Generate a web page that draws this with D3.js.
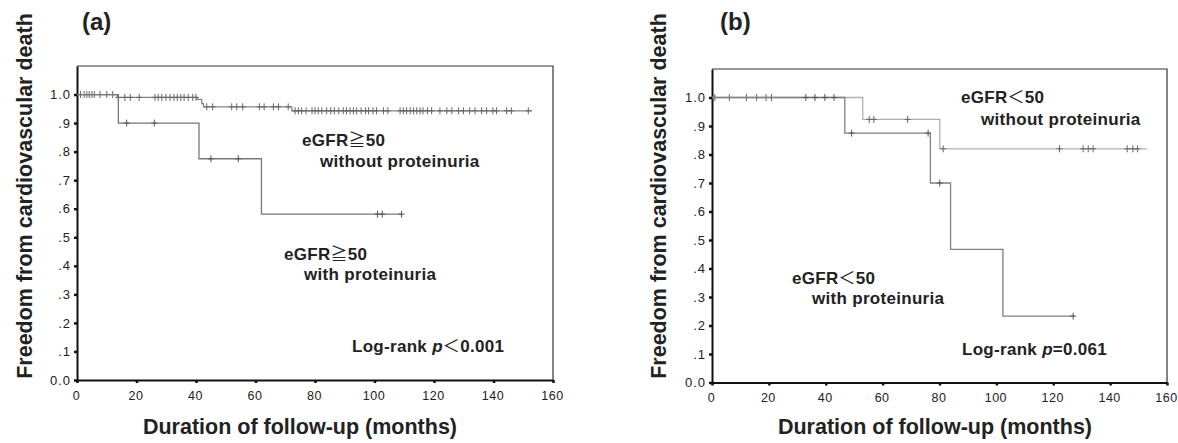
<!DOCTYPE html>
<html lang="en">
<head>
<meta charset="UTF-8">
<title>Kaplan-Meier curves</title>
<script src="https://d3js.org/d3.v7.min.js"></script>
<style>
  body { margin: 0; background: #fff; }
  svg { display: block; font-family: "Liberation Sans", Arial, sans-serif; }
  .tick text { font-size: 13px; fill: #222; letter-spacing: 1px; }
  .xax .tick text { font-size: 12.5px; letter-spacing: 0.5px; }
  .tick line { stroke: #111; stroke-width: 2.5; }
  .domain { stroke: #111; stroke-width: 2; }
  .ann { font-weight: bold; font-size: 17px; fill: #222; letter-spacing: 0.3px; }
  .sym { font-family: "Noto Sans CJK JP", "Liberation Sans", sans-serif; font-weight: normal; }
  .ttl { font-weight: bold; font-size: 21.5px; fill: #222; }
</style>
</head>
<body>
<svg width="1178" height="443"></svg>
<script>
// axis ticks
const xTicks = [0, 20, 40, 60, 80, 100, 120, 140, 160];
const yTicks = [0, .1, .2, .3, .4, .5, .6, .7, .8, .9, 1.0];
const yTickLabels = ["0.0", ".1", ".2", ".3", ".4", ".5", ".6", ".7", ".8", ".9", "1.0"];

// (a) eGFR >= 50
const aNoProtTimes = [0, 13.5, 40.3, 41.9, 42.5, 72.2];
const aNoProtSurv = [1.0, 0.99, 0.983, 0.968, 0.957, 0.943];
const aNoProtEnd = 153;
const aNoProtCens = [1.2, 2.4, 3.3, 4.1, 5.0, 5.8, 7.7, 10, 12, 13.9, 16.1, 17.9, 20.9,
  26.2, 27.3, 28.5, 29.9, 31.3, 32.6, 33.7, 34.9, 36, 37.4, 38.9, 40, 43.6, 45.6,
  52, 53.7, 55.7, 61.3, 62.9, 66, 67.7, 71, 73.3, 74.4, 75.5, 77, 79, 80, 81.1, 82.3,
  83.9, 85.3, 86.5, 88, 89.5, 90.6, 91.8, 92.9, 94, 95.5, 97, 98, 99.5, 100.7, 103,
  104.5, 108.6, 109.7, 110.8, 112, 113.1, 114.2, 115.3, 116.3, 117.8, 119.2, 122,
  124.3, 126, 128.2, 129.9, 132, 133.8, 136, 137.7, 139.8, 141, 144.4, 146, 151.7];

const aProtTimes = [0, 13.9, 41, 62];
const aProtSurv = [1.0, 0.9, 0.775, 0.581];
const aProtEnd = 109.2;
const aProtCens = [16.7, 26, 45, 54.2, 101, 102.6, 109.1];

// (b) eGFR < 50
const bNoProtTimes = [0, 53, 80.1];
const bNoProtSurv = [1.0, 0.923, 0.82];
const bNoProtEnd = 153;
const bNoProtCens = [1, 6.1, 12.1, 15.7, 19, 20.9, 55.3, 56.9, 68.8, 81.3, 122.2,
  130.5, 132.3, 134, 146, 148, 149.6];

const bProtTimes = [0, 46.7, 76.8, 83.9, 102.3];
const bProtSurv = [1.0, 0.875, 0.7, 0.467, 0.233];
const bProtEnd = 127.5;
const bProtCens = [33, 36.2, 39.7, 42.9, 49.1, 76, 80.1, 127];

const svg = d3.select("svg");

function survAt(times, surv, t) {
  let s = surv[0];
  for (let i = 0; i < times.length; i++) if (times[i] <= t) s = surv[i];
  return s;
}

function panel(cfg) {
  const x = d3.scaleLinear().domain([0, 160]).range([cfg.left, cfg.right]);
  const y = d3.scaleLinear().domain([0, 1.1]).range([cfg.bottom, cfg.top]);
  const g = svg.append("g");

  // thin top/right frame
  g.append("path")
    .attr("d", `M${cfg.left},${cfg.top}H${cfg.right}V${cfg.bottom}`)
    .attr("fill", "none").attr("stroke", "#333").attr("stroke-width", 1.2);

  g.append("g").attr("class", "xax").attr("transform", `translate(0,${cfg.bottom})`)
    .call(d3.axisBottom(x).tickValues(xTicks).tickSize(3).tickSizeOuter(0).tickPadding(8))
    .selectAll(".tick text").attr("dx", -1);
  g.append("g").attr("transform", `translate(${cfg.left},0)`)
    .call(d3.axisLeft(y).tickValues(yTicks).tickSize(3).tickSizeOuter(0).tickPadding(3)
      .tickFormat((d, i) => yTickLabels[i]));

  cfg.curves.forEach(c => {
    const pts = [];
    c.times.forEach((t, i) => {
      if (i > 0) pts.push([t, c.surv[i - 1]]);
      pts.push([t, c.surv[i]]);
    });
    pts.push([c.end, c.surv[c.surv.length - 1]]);
    g.append("path")
      .attr("d", d3.line().x(d => x(d[0])).y(d => y(d[1]))(pts))
      .attr("fill", "none").attr("stroke", c.color).attr("stroke-width", 1.3);
    g.selectAll(null).data(c.cens).enter().append("path")
      .attr("d", t => {
        const px = x(t), py = y(survAt(c.times, c.surv, t));
        return `M${px - 3},${py}H${px + 3}M${px},${py - 3.5}V${py + 3.5}`;
      })
      .attr("stroke", c.markColor).attr("stroke-width", 1);
  });

  svg.append("text").attr("x", cfg.tagX).attr("y", 30)
    .attr("font-weight", "bold").attr("font-size", 24).attr("fill", "#222").text(cfg.tag);
  svg.append("text").attr("class", "ttl").attr("text-anchor", "middle")
    .attr("transform", `translate(${cfg.yTitleX},196) rotate(-90)`)
    .text("Freedom from cardiovascular death");
  svg.append("text").attr("class", "ttl").attr("text-anchor", "middle")
    .attr("x", cfg.xTitleX).attr("y", 434).text("Duration of follow-up (months)");

  cfg.notes.forEach(n => {
    const t = svg.append("text").attr("class", "ann").attr("x", n.x).attr("y", n.y);
    if (n.p) {
      t.append("tspan").text("Log-rank ");
      t.append("tspan").attr("font-style", "italic").text("p");
      t.append("tspan").attr("class", "sym").text(n.sym);
      t.append("tspan").text(n.text);
    } else if (n.sym) {
      t.append("tspan").text("eGFR");
      t.append("tspan").attr("class", "sym").text(n.sym);
      t.append("tspan").text(n.text);
    } else {
      t.text(n.text);
    }
  });
}

panel({
  left: 77, right: 553, top: 66, bottom: 380, tag: "(a)", tagX: 82, yTitleX: 32, xTitleX: 300,
  curves: [
    { times: aNoProtTimes, surv: aNoProtSurv, end: aNoProtEnd, cens: aNoProtCens, color: "#858585", markColor: "#666" },
    { times: aProtTimes, surv: aProtSurv, end: aProtEnd, cens: aProtCens, color: "#777", markColor: "#555" }
  ],
  notes: [
    { x: 302, y: 146, sym: "≧", text: "50" },
    { x: 320, y: 167, text: "without proteinuria" },
    { x: 284, y: 260, sym: "≧", text: "50" },
    { x: 304, y: 280, text: "with proteinuria" },
    { x: 352, y: 352, sym: "＜", text: "0.001", p: true }
  ]
});

panel({
  left: 712, right: 1167, top: 69, bottom: 382.5, tag: "(b)", tagX: 720, yTitleX: 666, xTitleX: 935,
  curves: [
    { times: bNoProtTimes, surv: bNoProtSurv, end: bNoProtEnd, cens: bNoProtCens, color: "#b0b0b0", markColor: "#666" },
    { times: bProtTimes, surv: bProtSurv, end: bProtEnd, cens: bProtCens, color: "#808080", markColor: "#555" }
  ],
  notes: [
    { x: 961, y: 103, sym: "＜", text: "50" },
    { x: 981, y: 125, text: "without proteinuria" },
    { x: 792, y: 284, sym: "＜", text: "50" },
    { x: 812, y: 304, text: "with proteinuria" },
    { x: 962, y: 355, sym: "", text: "=0.061", p: true }
  ]
});
</script>
</body>
</html>
